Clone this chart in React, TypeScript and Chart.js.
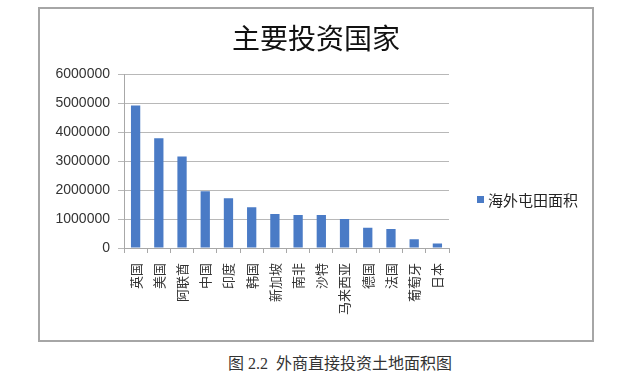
import React, { useEffect, useRef } from 'react';
import { Chart, registerables } from 'chart.js';

Chart.register(...registerables);

const chartTitle = '主要投资国家';
const seriesName = '海外屯田面积';
const caption = '图 2.2  外商直接投资土地面积图';

const categories = ['英国', '美国', '阿联酋', '中国', '印度', '韩国', '新加坡', '南非', '沙特', '马来西亚', '德国', '法国', '葡萄牙', '日本'];
const areaValues = [4930000, 3800000, 3170000, 1960000, 1720000, 1410000, 1180000, 1140000, 1140000, 1000000, 700000, 660000, 300000, 160000];
const yTicks = [0, 1000000, 2000000, 3000000, 4000000, 5000000, 6000000];

const barColor = '#4a7bc6';
const cjk = '"Noto Sans CJK SC", "Noto Sans", sans-serif';

export default function App() {
  const ref = useRef<HTMLCanvasElement>(null);

  useEffect(() => {
    document.body.style.margin = '0';
    const chart = new Chart(ref.current as HTMLCanvasElement, {
      type: 'bar',
      data: {
        labels: categories,
        datasets: [
          {
            label: seriesName,
            data: areaValues,
            backgroundColor: barColor,
            barPercentage: 0.4,
            categoryPercentage: 1,
          },
        ],
      },
      options: {
        animation: false,
        responsive: false,
        layout: { padding: 0 },
        plugins: {
          legend: { display: false },
          tooltip: { enabled: false },
          title: {
            display: true,
            text: chartTitle,
            color: '#111',
            font: { family: cjk, size: 28, weight: 'normal' },
            padding: { top: 13, bottom: 19 },
          },
        },
        scales: {
          x: {
            grid: { display: true, drawOnChartArea: false, offset: true, tickLength: 5, color: '#a8a8a8' },
            border: { color: '#a8a8a8' },
            ticks: {
              minRotation: 90,
              maxRotation: 90,
              autoSkip: false,
              padding: 10,
              color: '#333',
              font: { family: cjk, size: 13 },
            },
            afterFit: (s: any) => {
              s.height = 91;
            },
          },
          y: {
            min: 0,
            max: 6000000,
            afterBuildTicks: (s: any) => {
              s.ticks = yTicks.map((v) => ({ value: v }));
            },
            ticks: {
              padding: 8,
              color: '#333',
              font: { family: '"Liberation Sans", Arial, sans-serif', size: 14 },
              callback: (v: any) => String(v),
            },
            grid: { color: '#b8b8b8', tickLength: 6 },
            border: { color: '#a8a8a8' },
            afterFit: (s: any) => {
              s.width = 84;
            },
          },
          space: {
            position: 'right',
            display: true,
            grid: { display: false, drawTicks: false },
            border: { display: false },
            ticks: { display: false },
            afterFit: (s: any) => {
              s.width = 143;
            },
          },
        },
      },
    });
    return () => chart.destroy();
  }, []);

  return (
    <div style={{ position: 'relative', width: 640, height: 379, background: '#fff', overflow: 'hidden' }}>
      <div
        style={{
          position: 'absolute',
          left: 38,
          top: 7,
          width: 556,
          height: 335,
          boxSizing: 'border-box',
          border: '2px solid #a6a6a6',
        }}
      />
      <div style={{ position: 'absolute', left: 40, top: 9, width: 552, height: 330 }}>
        <canvas ref={ref} width={552} height={330} style={{ display: 'block' }} />
      </div>
      <div
        style={{
          position: 'absolute',
          left: 477,
          top: 190,
          height: 18,
          display: 'flex',
          alignItems: 'center',
          fontFamily: cjk,
          fontSize: 15,
          color: '#222',
          whiteSpace: 'nowrap',
        }}
      >
        <span style={{ display: 'inline-block', width: 7, height: 7, background: barColor, marginRight: 4 }} />
        <span>{seriesName}</span>
      </div>
      <div
        style={{
          position: 'absolute',
          left: 0,
          width: 680,
          top: 350,
          textAlign: 'center',
          fontFamily: '"Liberation Serif", "Noto Sans CJK SC", serif',
          fontSize: 16,
          color: '#333',
          whiteSpace: 'pre',
        }}
      >
        {caption}
      </div>
    </div>
  );
}
